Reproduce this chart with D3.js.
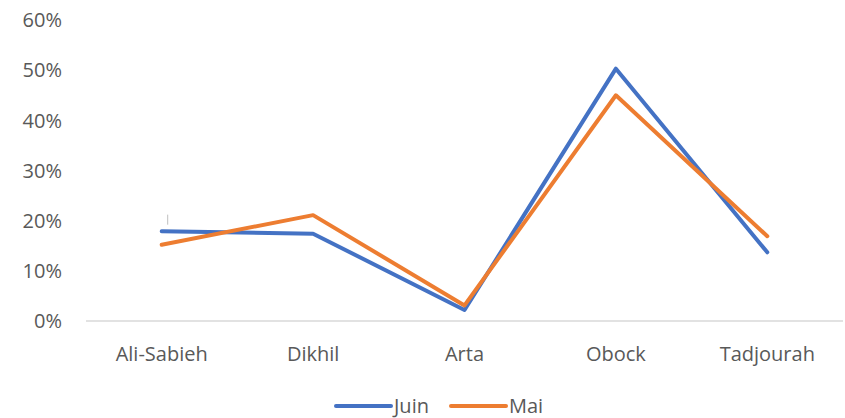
<!DOCTYPE html>
<html lang="fr">
<head>
  <meta charset="utf-8">
  <script src="https://d3js.org/d3.v7.min.js"></script>
  <style>
    body { margin: 0; background: #fff; }
    text { font-family: "Open Sans", "Liberation Sans", sans-serif; fill: #595959; }
  </style>
</head>
<body>
  <svg id="chart" width="845" height="418"></svg>
  <script>
    // data
    const regions = ["Ali-Sabieh", "Dikhil", "Arta", "Obock", "Tadjourah"];
    const juin = [0.179, 0.174, 0.022, 0.503, 0.137];
    const mai = [0.152, 0.211, 0.031, 0.450, 0.169];
    const yTicks = [0, 0.1, 0.2, 0.3, 0.4, 0.5, 0.6];

    const series = [
      { name: "Juin", values: juin, color: "#4472C4" },
      { name: "Mai", values: mai, color: "#ED7D31" }
    ];

    const svg = d3.select("#chart");
    const margin = { left: 86, right: 2, top: 20, bottom: 97 };
    const width = +svg.attr("width");
    const height = +svg.attr("height");
    const fs = 20;

    const x = d3.scalePoint()
      .domain(regions)
      .range([margin.left, width - margin.right])
      .padding(0.5);

    const y = d3.scaleLinear()
      .domain([0, 0.6])
      .range([height - margin.bottom, margin.top]);

    // y labels
    svg.append("g")
      .selectAll("text")
      .data(yTicks)
      .join("text")
      .attr("x", 62)
      .attr("y", d => y(d))
      .attr("dy", "0.36em")
      .attr("text-anchor", "end")
      .attr("font-size", fs)
      .text(d => d3.format(".0%")(d));

    // baseline
    svg.append("line")
      .attr("x1", margin.left)
      .attr("x2", width - margin.right)
      .attr("y1", y(0))
      .attr("y2", y(0))
      .attr("stroke", "#D9D9D9")
      .attr("stroke-width", 1.5);

    // x labels
    svg.append("g")
      .selectAll("text")
      .data(regions)
      .join("text")
      .attr("x", d => x(d))
      .attr("y", y(0) + 40)
      .attr("text-anchor", "middle")
      .attr("font-size", fs)
      .text(d => d);

    // small stray mark near Ali-Sabieh
    svg.append("line")
      .attr("x1", x(regions[0]) + 6)
      .attr("x2", x(regions[0]) + 6)
      .attr("y1", y(0.212))
      .attr("y2", y(0.192))
      .attr("stroke", "#BFBFBF")
      .attr("stroke-width", 1);

    const line = d3.line()
      .x((d, i) => x(regions[i]))
      .y(d => y(d));

    svg.append("g")
      .selectAll("path")
      .data(series)
      .join("path")
      .attr("d", d => line(d.values))
      .attr("fill", "none")
      .attr("stroke", d => d.color)
      .attr("stroke-width", 4)
      .attr("stroke-linejoin", "round")
      .attr("stroke-linecap", "round");

    // legend
    const legend = svg.append("g")
      .attr("transform", "translate(0,406)");
    const lgOffsets = [336, 451];
    const item = legend.selectAll("g")
      .data(series)
      .join("g")
      .attr("transform", (d, i) => "translate(" + lgOffsets[i] + ",0)");
    item.append("line")
      .attr("x1", 0)
      .attr("x2", 55)
      .attr("stroke", d => d.color)
      .attr("stroke-width", 4)
      .attr("stroke-linecap", "round");
    item.append("text")
      .attr("x", 58)
      .attr("dy", "0.36em")
      .attr("font-size", fs)
      .text(d => d.name);
  </script>
</body>
</html>
